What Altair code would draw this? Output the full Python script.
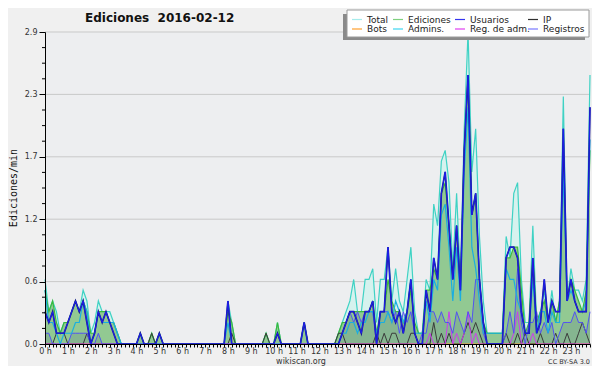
import altair as alt
import pandas as pd

# ---- data: 10-minute bins (6 per hour), values in edits/min ----
total = [
    .6, .3, .4, .3, .1, .2,    # 0 h
    .2, .3, .4, .3, .5, .4,    # 1 h
    .1, .2, .4, .3, .3, .3,    # 2 h
    .2, .1, 0, 0, 0, 0,        # 3 h
    0, .1, 0, 0, .1, 0,        # 4 h
    .1, 0, 0, 0, 0, 0,         # 5 h
    0, 0, 0, 0, 0, 0,          # 6 h
    0, 0, 0, 0, 0, 0,          # 7 h
    .4, .2, 0, 0, 0, 0,        # 8 h
    0, 0, 0, 0, .1, 0,         # 9 h
    0, .2, 0, 0, 0, 0,         # 10 h
    0, 0, .2, 0, 0, 0,         # 11 h
    0, 0, 0, 0, 0, .1,         # 12 h
    .2, .3, .4, .6, .3, .3,    # 13 h
    .6, .6, .7, .2, .6, .6,    # 14 h
    .9, .4, .7, .4, .3, .6,    # 15 h
    .9, .3, .1, .1, .6, .5,    # 16 h
    1.3, 1.1, 1.7, 1.8, 1.5, .7,   # 17 h
    1.4, .6, 2.0, 2.9, 1.6, 2.0,   # 18 h
    1.0, .4, .1, .1, .1, .1,   # 19 h
    .1, 1.0, .8, 1.4, 1.5, .6, # 20 h
    .2, .2, 1.1, .2, .3, .5,   # 21 h
    .2, .5, .2, .4, 2.3, .4,   # 22 h
    .7, .5, .5, .4, .6, 2.5,   # 23 h
]
ediciones = [
    .5, .3, .4, .2, .1, .2,
    .2, .3, .4, .3, .4, .3,
    .1, .1, .3, .3, .3, .2,
    .2, .1, 0, 0, 0, 0,
    0, .1, 0, 0, .1, 0,
    .1, 0, 0, 0, 0, 0,
    0, 0, 0, 0, 0, 0,
    0, 0, 0, 0, 0, 0,
    .3, .2, 0, 0, 0, 0,
    0, 0, 0, 0, .1, 0,
    0, .2, 0, 0, 0, 0,
    0, 0, .2, 0, 0, 0,
    0, 0, 0, 0, 0, .1,
    .2, .2, .3, .3, .3, .3,
    .3, .3, .4, .1, .3, .3,
    .6, .4, .3, .3, .2, .3,
    .5, .2, .1, .1, .5, .5,
    .7, .6, 1.4, 1.5, 1.1, .6,
    1.1, .5, 1.8, 2.5, 1.2, 1.4,
    .6, .2, .1, .1, .1, .1,
    .1, .8, .8, .9, .9, .5,
    .1, .2, .8, .2, .3, .4,
    .2, .4, .2, .4, 1.7, .4,
    .6, .5, .4, .3, .5, 1.8,
]
usuarios = [
    .3, .2, .3, .1, .1, .1,
    .2, .3, .4, .3, .4, .2,
    0, .1, .3, .2, .3, .2,
    .1, 0, 0, 0, 0, 0,
    0, .1, 0, 0, 0, 0,
    .1, 0, 0, 0, 0, 0,
    0, 0, 0, 0, 0, 0,
    0, 0, 0, 0, 0, 0,
    .4, 0, 0, 0, 0, 0,
    0, 0, 0, 0, 0, 0,
    0, .1, 0, 0, 0, 0,
    0, 0, .2, 0, 0, 0,
    0, 0, 0, 0, 0, 0,
    .1, .2, .3, .3, .2, .1,
    .3, .3, .4, 0, .3, .3,
    .9, .3, .2, .3, .1, .3,
    .6, .1, 0, 0, .5, .3,
    .8, .6, 1.4, 1.6, 1.1, .6,
    1.1, .5, 1.8, 2.5, 1.2, 1.4,
    .6, .2, 0, 0, 0, 0,
    0, .8, .9, .9, .8, .3,
    .1, .1, .8, .1, .2, .6,
    .2, .4, .3, .3, 2.0, .4,
    .6, .4, .3, .3, .3, 2.2,
]
ip = [
    0, 0, 0, .1, .1, .1,
    0, 0, 0, 0, 0, .1,
    0, 0, 0, 0, 0, 0,
    0, 0, 0, 0, 0, 0,
    0, 0, 0, 0, .1, 0,
    0, 0, 0, 0, 0, 0,
    0, 0, 0, 0, 0, 0,
    0, 0, 0, 0, 0, 0,
    0, .1, 0, 0, 0, 0,
    0, 0, 0, 0, .1, 0,
    0, .1, 0, 0, 0, 0,
    0, 0, 0, 0, 0, 0,
    0, 0, 0, 0, 0, .1,
    .1, 0, 0, 0, 0, 0,
    0, 0, 0, .1, 0, .1,
    0, .1, .1, 0, 0, 0,
    .1, .1, 0, 0, 0, 0,
    .2, 0, .1, 0, .1, 0,
    0, 0, .1, .2, .1, .2,
    .1, 0, 0, 0, 0, 0,
    0, .1, 0, 0, .1, 0,
    .1, 0, 0, 0, .1, 0,
    0, 0, .1, 0, 0, .1,
    0, 0, .1, .2, .1, 0,
]
bots = [0] * 144
admins = [
    .5, .2, .2, .1, 0, .1,
    .1, .1, .2, .2, .4, .3,
    0, .1, .3, .2, .2, .2,
    .2, .1, 0, 0, 0, 0,
    0, 0, 0, 0, 0, 0,
    0, 0, 0, 0, 0, 0,
    0, 0, 0, 0, 0, 0,
    0, 0, 0, 0, 0, 0,
    .2, 0, 0, 0, 0, 0,
    0, 0, 0, 0, 0, 0,
    0, 0, 0, 0, 0, 0,
    0, 0, .2, 0, 0, 0,
    0, 0, 0, 0, 0, 0,
    .1, .1, .2, .2, .1, .2,
    .2, .3, .3, .1, .2, .2,
    .3, .2, .4, .3, .2, .3,
    .6, .1, .1, .1, .4, .2,
    .6, .5, 1.2, 1.3, .9, .4,
    .9, .4, 1.6, 2.2, .9, .7,
    .4, .1, .1, .1, .1, .1,
    .1, .7, .6, .6, .4, .3,
    .1, .1, .6, .1, .3, .3,
    .1, .3, .2, .2, 1.6, .4,
    .5, .4, .3, .3, .4, 1.9,
]
reg_adm = [
    0, 0, 0, 0, 0, 0,
    0, 0, 0, 0, 0, 0,
    0, 0, 0, 0, 0, 0,
    0, 0, 0, 0, 0, 0,
    0, 0, 0, 0, 0, 0,
    0, 0, 0, 0, 0, 0,
    0, 0, 0, 0, 0, 0,
    0, 0, 0, 0, 0, 0,
    0, 0, 0, 0, 0, 0,
    0, 0, 0, 0, 0, 0,
    0, 0, 0, 0, 0, 0,
    0, 0, 0, 0, 0, 0,
    0, 0, 0, 0, 0, 0,
    0, 0, 0, 0, 0, 0,
    0, 0, 0, 0, 0, 0,
    0, 0, 0, 0, 0, 0,
    0, 0, 0, 0, 0, .1,
    0, 0, 0, 0, .3, 0,
    .1, 0, .1, .3, 0, .1,
    0, 0, 0, 0, 0, 0,
    0, 0, 0, .1, .3, 0,
    0, 0, .1, 0, 0, 0,
    0, 0, 0, 0, 0, 0,
    0, 0, 0, 0, 0, 0,
]
registros = [
    .1, .1, 0, 0, 0, 0,
    0, .1, .1, .1, .1, .1,
    0, 0, .1, 0, 0, 0,
    0, 0, 0, 0, 0, 0,
    0, 0, 0, 0, 0, 0,
    0, 0, 0, 0, 0, 0,
    0, 0, 0, 0, 0, 0,
    0, 0, 0, 0, 0, 0,
    0, 0, 0, 0, 0, 0,
    0, 0, 0, 0, 0, 0,
    0, 0, 0, 0, 0, 0,
    0, 0, 0, 0, 0, 0,
    0, 0, 0, 0, 0, 0,
    .1, .2, .3, .2, .3, .2,
    .3, .3, .3, 0, .3, .3,
    .3, .2, .3, .1, .3, .2,
    .3, .1, 0, .1, .1, .3,
    .3, .2, .3, .2, .2, .1,
    .3, .2, .1, .3, .2, .6,
    .6, .1, 0, 0, 0, 0,
    0, .1, .3, .1, .7, .2,
    0, .2, .2, .3, .1, .2,
    .1, .2, 0, .1, .2, .2,
    .2, .3, .2, .2, .1, .3,
]

y_major = [0.0, 0.58, 1.16, 1.74, 2.32, 2.9]
y_minor = [0.145, 0.29, 0.435, 0.725, 0.87, 1.015, 1.305, 1.45, 1.595,
           1.885, 2.03, 2.175, 2.465, 2.61, 2.755]

legend_labels = ["Total", "Ediciones", "Usuarios", "IP",
                 "Bots", "Admins.", "Reg. de adm.", "Registros"]
legend_colors = ["#a6ecec", "#7fd07f", "#3535f0", "#303030",
                 "#ffa030", "#3fd6f0", "#e040f0", "#7878ff"]

title_text = "Ediciones \u00a02016-02-12"
y_title = "Ediciones/min"

# ---- chart ----
W, H = 545, 312
bins = list(range(144))
df = pd.DataFrame({
    "bin": bins, "Total": total, "Ediciones": ediciones, "Usuarios": usuarios,
    "IP": ip, "Bots": bots, "Admins": admins, "RegAdm": reg_adm,
    "Registros": registros,
})

FONT = "DejaVu Sans"
xs = alt.Scale(domain=[0, 143], nice=False, zero=False)
ys = alt.Scale(domain=[0, 2.9], nice=False, zero=True)

x_axis = alt.Axis(
    values=bins,
    labelExpr="datum.value % 6 == 0 ? floor(datum.value / 6) + ' h' : ''",
    tickSize=3, labelPadding=0, grid=False, title=None, labelOverlap=False,
    labelFlush=False, labelBound=False, domainColor="#000", tickColor="#000",
    labelFont=FONT, labelFontSize=8, labelColor="#333", zindex=1,
)
y_axis = alt.Axis(
    values=y_major, format=".1f", tickSize=6, labelPadding=2, grid=False,
    title=None, domainColor="#000", tickColor="#000", labelFont=FONT,
    labelFontSize=8, labelColor="#333", zindex=1, labelOverlap=False,
)

X = alt.X("bin:Q", scale=xs, axis=x_axis)


def Yf(field):
    return alt.Y(f"{field}:Q", scale=ys, axis=y_axis)


base = alt.Chart(df)

grid = alt.Chart(pd.DataFrame({"v": y_major[1:]})).mark_rule(
    color="#c9c9c9", strokeWidth=1).encode(y=Yf("v"))

total_area = base.mark_area(color="#d6f2ee").encode(x=X, y=Yf("Total"))
ed_area = base.mark_area(color="#92c992").encode(x=X, y=Yf("Ediciones"))
reg_area = base.mark_area(color="#56688e", opacity=0.2).encode(x=X, y=Yf("Registros"))
total_line = base.mark_line(color="#3fd2c4", strokeWidth=1.2).encode(x=X, y=Yf("Total"))
ed_line = base.mark_line(color="#3cba3c", strokeWidth=1.2).encode(x=X, y=Yf("Ediciones"))
bots_line = base.mark_line(color="#ffa030", strokeWidth=1).encode(x=X, y=Yf("Bots"))
ip_line = base.mark_line(color="#3a3a3a", strokeWidth=1).encode(x=X, y=Yf("IP"))
regadm_line = base.mark_line(color="#cc3cee", strokeWidth=1).encode(x=X, y=Yf("RegAdm"))
reg_line = base.mark_line(color="#5252f2", strokeWidth=1).encode(x=X, y=Yf("Registros"))
adm_line = base.mark_line(color="#1aaee0", strokeWidth=1.2).encode(x=X, y=Yf("Admins"))
usu_under = base.mark_line(color="#1a1a90", strokeWidth=1.7).encode(x=X, y=Yf("Usuarios"))
usu_line = base.mark_line(color="#1e1ef8", strokeWidth=0.9).encode(x=X, y=Yf("Usuarios"))

minor = alt.Chart(pd.DataFrame({"v": y_minor})).mark_rule(
    color="#000", strokeWidth=1).encode(
    y=Yf("v"), x=alt.value(-3), x2=alt.value(0))

one = pd.DataFrame({"a": [0]})


def text_layer(txt, x, y, **kw):
    return alt.Chart(one).mark_text(text=txt, **kw).encode(
        x=alt.value(x), y=alt.value(y))


annotations = [
    text_layer(title_text, 40, -14, align="left", baseline="middle",
               font=FONT, fontSize=12, fontWeight="bold", color="#111"),
    text_layer(y_title, -31.5, 156, align="center", baseline="middle",
               angle=270, font="DejaVu Sans Mono", fontSize=10, color="#111"),
    text_layer("wikiscan.org", 256, 329.5, align="center", baseline="middle",
               font=FONT, fontSize=8, color="#333"),
    text_layer("CC BY-SA 3.0", 545, 330, align="right", baseline="middle",
               font=FONT, fontSize=6.5, color="#333"),
]

legend_layers = [
    alt.Chart(one).mark_rect(color="#8a8a8a").encode(
        x=alt.value(298), x2=alt.value(540), y=alt.value(-18), y2=alt.value(8)),
    alt.Chart(one).mark_rect(fill="#ffffff", stroke="#9a9a9a", strokeWidth=1).encode(
        x=alt.value(302), x2=alt.value(544), y=alt.value(-22), y2=alt.value(5)),
]
col_x = [307, 348, 410, 483]
row_y = [-12.5, -3]
for k, (lab, col) in enumerate(zip(legend_labels, legend_colors)):
    cx = col_x[k % 4]
    ry = row_y[k // 4]
    legend_layers.append(alt.Chart(one).mark_rule(color=col, strokeWidth=1.2).encode(
        x=alt.value(cx), x2=alt.value(cx + 10), y=alt.value(ry)))
    legend_layers.append(text_layer(lab, cx + 15, ry, align="left", baseline="middle",
                                    font=FONT, fontSize=9, color="#222"))

chart = alt.layer(
    grid, total_area, ed_area, reg_area, total_line, ed_line, bots_line,
    ip_line, regadm_line, reg_line, adm_line, usu_under, usu_line, minor,
    *annotations, *legend_layers,
).properties(
    width=W, height=H,
    padding={"left": 37, "top": 24, "right": 2, "bottom": 22},
    autosize=alt.AutoSizeParams(type="none"),
    background="#f0f0f0",
).configure_view(fill="#edeef0", stroke=None)

chart.save("out.html", embed_options={"renderer": "svg", "actions": False})
